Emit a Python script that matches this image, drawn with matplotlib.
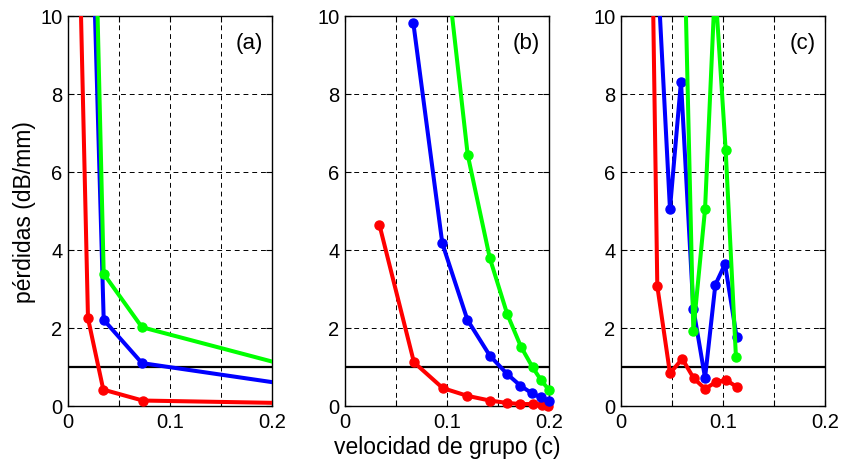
import numpy as np
import matplotlib
matplotlib.use('Agg')
import matplotlib.pyplot as plt

plt.rcParams['font.family'] = ['Liberation Sans', 'DejaVu Sans']

# panel (a)
a_red_x = [0.0110, 0.0196, 0.0346, 0.0732, 0.3]
a_red_y = [12.0, 2.25, 0.42, 0.14, 0.035]
a_blue_x = [0.0243, 0.035, 0.0725, 0.3]
a_blue_y = [12.0, 2.21, 1.10, 0.23]
a_green_x = [0.0272, 0.035, 0.0725, 0.3]
a_green_y = [12.0, 3.39, 2.02, 0.45]

# panel (b)
b_red_x = [0.0337, 0.0676, 0.0958, 0.120, 0.142, 0.1585, 0.172, 0.184, 0.193, 0.1993]
b_red_y = [4.65, 1.12, 0.46, 0.26, 0.14, 0.08, 0.05, 0.05, 0.03, 0.01]
b_blue_x = [0.067, 0.0954, 0.120, 0.142, 0.159, 0.172, 0.183, 0.192, 0.1997]
b_blue_y = [9.82, 4.17, 2.21, 1.29, 0.82, 0.52, 0.33, 0.22, 0.12]
b_green_x = [0.0934, 0.1203, 0.142, 0.159, 0.1725, 0.184, 0.192, 0.1997]
b_green_y = [12.7, 6.44, 3.79, 2.36, 1.52, 0.99, 0.67, 0.42]

# panel (c)
c_red_x = [0.0305, 0.0356, 0.048, 0.0601, 0.0713, 0.0824, 0.0928, 0.103, 0.1134]
c_red_y = [12.0, 3.07, 0.84, 1.21, 0.71, 0.44, 0.61, 0.67, 0.49]
c_blue_x = [0.0342, 0.048, 0.0588, 0.0709, 0.0824, 0.0925, 0.102, 0.1134]
c_blue_y = [12.0, 5.05, 8.32, 2.50, 0.72, 3.11, 3.64, 1.76]
c_green_x = [0.0619, 0.0709, 0.0824, 0.0922, 0.1026, 0.1127]
c_green_y = [12.0, 1.92, 5.05, 10.8, 6.57, 1.25]

panels = [
    ('(a)', [(a_red_x, a_red_y), (a_blue_x, a_blue_y), (a_green_x, a_green_y)]),
    ('(b)', [(b_red_x, b_red_y), (b_blue_x, b_blue_y), (b_green_x, b_green_y)]),
    ('(c)', [(c_red_x, c_red_y), (c_blue_x, c_blue_y), (c_green_x, c_green_y)]),
]
colors = ['#ff0000', '#0000ff', '#00ff00']
x_ticks = [0, 0.05, 0.1, 0.15, 0.2]
x_ticklabels = ['0', '', '0.1', '', '0.2']
y_ticks = [0, 2, 4, 6, 8, 10]

fig = plt.figure(figsize=(8.42, 4.64), dpi=100)
lefts = [68, 345, 621]

for left, (tag, series) in zip(lefts, panels):
    ax = fig.add_axes([left / 842, 57 / 464, 204 / 842, 390 / 464])
    ax.set_xlim(0, 0.2)
    ax.set_ylim(0, 10)
    ax.set_xticks(x_ticks)
    ax.set_xticklabels(x_ticklabels)
    ax.set_yticks(y_ticks)
    ax.tick_params(direction='in', top=True, right=True, labelsize=14.5, length=4, pad=4)
    ax.grid(True, color='black', linestyle=(0, (5, 4)), linewidth=0.7)
    ax.set_axisbelow(True)
    for sp in ax.spines.values():
        sp.set_linewidth(1.0)
    ax.axhline(1, color='black', linewidth=1.6, zorder=2)
    for c, (xs, ys) in zip(colors, series):
        xs = np.array(xs)
        ys = np.array(ys)
        ax.plot(xs, ys, '-', color=c, linewidth=2.9, zorder=3)
        # markers of visible points are not cut at the box edge
        vis = (xs <= 0.2) & (ys <= 10)
        ax.plot(xs[vis], ys[vis], 'o', color=c, markersize=6.5, zorder=3, clip_on=False)
    ax.text(0.955, 0.96, tag, transform=ax.transAxes, ha='right', va='top', fontsize=16)
    if tag == '(a)':
        ax.set_ylabel('pérdidas (dB/mm)', fontsize=16.5, labelpad=3)
    if tag == '(b)':
        ax.set_xlabel('velocidad de grupo (c)', fontsize=16.5, labelpad=3)

fig.savefig('out.png', dpi=100)
